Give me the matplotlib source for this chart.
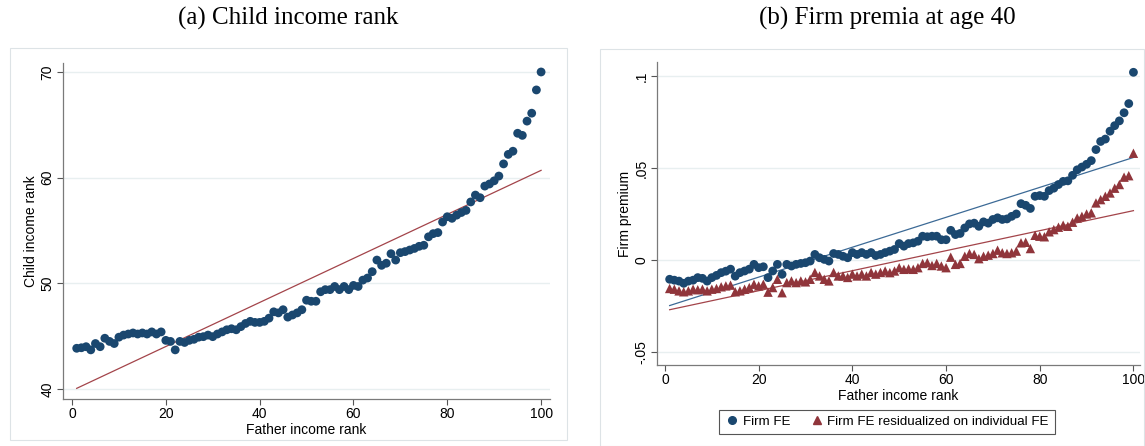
import matplotlib
matplotlib.use("Agg")
import matplotlib.pyplot as plt
from matplotlib.patches import Rectangle
from matplotlib.lines import Line2D
import numpy as np

# ---------------- data ----------------
father_rank = list(range(1, 101))

child_rank = [43.85, 43.9, 44.0, 43.7, 44.3, 44.0, 44.8, 44.5, 44.3, 44.9,
              45.1, 45.2, 45.3, 45.2, 45.3, 45.2, 45.4, 45.2, 45.4, 44.6,
              44.5, 43.7, 44.5, 44.4, 44.6, 44.7, 44.9, 44.95, 45.1, 44.95,
              45.2, 45.4, 45.6, 45.7, 45.6, 45.9, 46.2, 46.4, 46.3, 46.3,
              46.4, 46.7, 47.3, 47.2, 47.5, 46.8, 47.0, 47.2, 47.5, 48.4,
              48.3, 48.3, 49.2, 49.4, 49.4, 49.7, 49.4, 49.7, 49.4, 49.8,
              49.7, 50.3, 50.5, 51.1, 52.2, 51.7, 51.9, 52.8, 52.2, 52.9,
              53.0, 53.15, 53.3, 53.5, 53.6, 54.4, 54.7, 54.8, 55.8, 56.3,
              56.15, 56.45, 56.7, 56.9, 57.7, 58.35, 58.1, 59.2, 59.4, 59.7,
              60.15, 61.3, 62.2, 62.5, 64.2, 64.0, 65.35, 66.1, 68.3, 70.0]
child_fit = [39.85, 0.2084]   # intercept, slope

firm_fe = [-0.0105, -0.011, -0.0115, -0.0127, -0.0115, -0.011, -0.0096, -0.010, -0.0115, -0.0096,
           -0.0084, -0.0069, -0.0061, -0.005, -0.0088, -0.0069, -0.006, -0.005, -0.0024, -0.0042,
           -0.0037, -0.0096, -0.006, -0.0024, -0.0078, -0.0024, -0.0033, -0.0024, -0.0019, -0.0015,
           -0.0006, 0.003, 0.0012, 0.0003, -0.0006, 0.0035, 0.003, 0.002, 0.0012, 0.004,
           0.003, 0.004, 0.003, 0.004, 0.0024, 0.003, 0.004, 0.0048, 0.0057, 0.0089,
           0.0075, 0.0089, 0.0093, 0.0102, 0.0129, 0.0126, 0.0129, 0.0129, 0.011, 0.011,
           0.0161, 0.0138, 0.0144, 0.0174, 0.0196, 0.020, 0.0183, 0.0207, 0.020, 0.022,
           0.0229, 0.022, 0.0223, 0.0237, 0.025, 0.0306, 0.0297, 0.028, 0.0346, 0.035,
           0.0346, 0.0377, 0.039, 0.041, 0.0427, 0.043, 0.046, 0.049, 0.0505, 0.052,
           0.054, 0.060, 0.0644, 0.0657, 0.070, 0.073, 0.0756, 0.080, 0.085, 0.102]

firm_fe_resid = [-0.0155, -0.0159, -0.0168, -0.0173, -0.0168, -0.0159, -0.0162, -0.0159, -0.0168, -0.0159,
                 -0.0155, -0.0146, -0.0141, -0.0137, -0.0173, -0.0168, -0.0159, -0.015, -0.0132, -0.0141,
                 -0.0132, -0.0175, -0.015, -0.0105, -0.0178, -0.0123, -0.0114, -0.0123, -0.0114, -0.0119,
                 -0.0105, -0.0068, -0.0087, -0.0105, -0.0114, -0.0068, -0.0087, -0.0087, -0.0095, -0.0077,
                 -0.0087, -0.0077, -0.0087, -0.0068, -0.0077, -0.0068, -0.006, -0.0069, -0.006, -0.0042,
                 -0.0051, -0.0048, -0.0051, -0.0042, -0.0019, -0.0015, -0.003, -0.0019, -0.0033, -0.0042,
                 0.0015, -0.0024, -0.0019, 0.002, 0.0035, 0.003, 0.0007, 0.002, 0.0026, 0.0035,
                 0.0053, 0.0039, 0.0035, 0.0039, 0.0048, 0.0093, 0.0096, 0.0062, 0.0134, 0.0129,
                 0.0126, 0.0153, 0.0165, 0.0178, 0.0189, 0.0183, 0.0205, 0.0228, 0.0237, 0.025,
                 0.0256, 0.031, 0.0328, 0.0346, 0.0364, 0.039, 0.041, 0.045, 0.0458, 0.058]
firm_fe_fit = [-0.0256, 0.000813]
firm_fe_resid_fit = [-0.0276, 0.000544]

x_ticks = [0, 20, 40, 60, 80, 100]
left_yticks = [40, 50, 60, 70]
right_yticks = [-0.05, 0, 0.05, 0.1]
right_yticklabels = ["-.05", "0", ".05", ".1"]

# ---------------- style ----------------
NAVY = "#1a476f"
MAROON = "#90353b"
BLUE_LINE = "#3c6a96"
RED_LINE = "#a3444a"
GRID = "#e8eff0"
SANS = ["Liberation Sans", "DejaVu Sans"]
SERIF = ["Liberation Serif", "DejaVu Serif"]
FS = 10

W, H = 1145, 446
fig = plt.figure(figsize=(W / 100, H / 100), dpi=100)

def fx(px):
    return px / W

def fy(py):
    return 1 - py / H

# panel frames
fig.patches.append(Rectangle((fx(10), fy(440)), fx(557), 392 / H, transform=fig.transFigure,
                             fill=False, edgecolor="#dde3e6", linewidth=0.8))
fig.patches.append(Rectangle((fx(600), fy(446) + 0.001), fx(544), 397 / H, transform=fig.transFigure,
                             fill=False, edgecolor="#dde3e6", linewidth=0.8))

def style_axes(ax):
    for s in ["top", "right"]:
        ax.spines[s].set_visible(False)
    for s in ["left", "bottom"]:
        ax.spines[s].set_color("#7a7a7a")
        ax.spines[s].set_linewidth(0.9)
    ax.tick_params(axis="both", direction="out", length=4, width=0.8, color="#555555",
                   labelsize=FS, pad=2)
    ax.grid(axis="y", color=GRID, linewidth=1.0)
    ax.set_axisbelow(True)
    for lab in ax.get_xticklabels() + ax.get_yticklabels():
        lab.set_fontfamily(SANS)

x = np.array(father_rank)
xl = np.array([1, 100])

# ---------------- left panel ----------------
axL = fig.add_axes([fx(63), fy(399), fx(550 - 63), (399 - 63) / H])
axL.plot(xl, child_fit[0] + child_fit[1] * xl, color=RED_LINE, linewidth=0.9, zorder=2)
axL.scatter(x, child_rank, s=40, color=NAVY, edgecolors="none", zorder=3)
axL.set_xlim(-1.92, 101.9)
axL.set_ylim(39.05, 70.85)
axL.set_xticks(x_ticks)
axL.set_yticks(left_yticks)
axL.set_yticklabels([str(v) for v in left_yticks], rotation=90, va="center")
style_axes(axL)
axL.set_xlabel("Father income rank", fontsize=FS, family=SANS, labelpad=1)
axL.set_ylabel("Child income rank", fontsize=FS, family=SANS, labelpad=2)

# ---------------- right panel ----------------
axR = fig.add_axes([fx(657), fy(365), fx(1140 - 657), (365 - 62) / H])
axR.plot(xl, firm_fe_fit[0] + firm_fe_fit[1] * xl, color=BLUE_LINE, linewidth=0.9, zorder=2)
axR.plot(xl, firm_fe_resid_fit[0] + firm_fe_resid_fit[1] * xl, color=RED_LINE, linewidth=0.9, zorder=2)
axR.scatter(x, firm_fe, s=40, color=NAVY, edgecolors="none", zorder=3, label="Firm FE")
axR.scatter(x, firm_fe_resid, s=46, marker="^", color=MAROON, edgecolors="none", zorder=3,
            label="Firm FE residualized on individual FE")
axR.set_xlim(-1.7, 101.4)
axR.set_ylim(-0.0571, 0.1076)
axR.set_xticks(x_ticks)
axR.set_yticks(right_yticks)
axR.set_yticklabels(right_yticklabels, rotation=90, va="center")
style_axes(axR)
axR.set_xlabel("Father income rank", fontsize=FS, family=SANS, labelpad=1)
axR.set_ylabel("Firm premium", fontsize=FS, family=SANS, labelpad=2)

handles = [Line2D([], [], linestyle="none", marker="o", markersize=5.5, color=NAVY),
           Line2D([], [], linestyle="none", marker="^", markersize=6, color=MAROON)]
leg = fig.legend(handles, ["Firm FE", "Firm FE residualized on individual FE"],
                 loc="center", bbox_to_anchor=(fx(887), fy(422)), ncol=2,
                 frameon=True, fancybox=False, edgecolor="#555555", framealpha=1,
                 prop={"family": SANS, "size": 9.6}, handletextpad=0.3,
                 columnspacing=1.5, handlelength=1.0, borderpad=0.45)
leg.get_frame().set_linewidth(0.8)

# titles
fig.text(fx(288), fy(18), "(a) Child income rank", ha="center", va="center",
         fontsize=18, family=SERIF)
fig.text(fx(887), fy(18), "(b) Firm premia at age 40", ha="center", va="center",
         fontsize=18, family=SERIF)

fig.savefig("out.png", dpi=100)
